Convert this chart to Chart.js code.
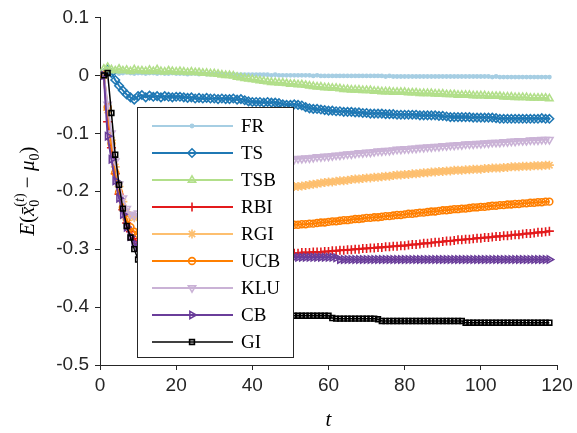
<!DOCTYPE html>
<html>
<head>
<meta charset="utf-8">
<script src="https://cdn.jsdelivr.net/npm/chart.js@4/dist/chart.umd.min.js"></script>
<style>
  html, body { margin: 0; padding: 0; background: #ffffff; }
  #wrap { position: relative; width: 577px; height: 433px; }
</style>
</head>
<body>
<div id="wrap"><canvas id="c" width="577" height="433"></canvas></div>
<script>
// ---------------- DATA ----------------
const seriesNames = ["FR", "TS", "TSB", "RBI", "RGI", "UCB", "KLU", "CB", "GI"];
const tValues = Array.from({ length: 118 }, (_, i) => i + 1);
const xTickLabels = ["0", "20", "40", "60", "80", "100", "120"];
const yTickLabels = ["-0.5", "-0.4", "-0.3", "-0.2", "-0.1", "0", "0.1"];
const xTitle = "t";
// y title pieces: [text, kind]  kind: i = italic, r = roman, sub = subscript, sup = superscript
const yTitleParts = [["E", "i"], ["(", "r"], ["x\u0304", "i"], ["0", "sub"], ["(t)", "sup"], [" \u2212 ", "r"], ["\u03BC", "i"], ["0", "sub"], [")", "r"]];

const FR = [
  0.000, 0.006, 0.004, 0.005, 0.003, 0.004, 0.005, 0.004, 0.003, 0.004,
  0.004, 0.003, 0.004, 0.004, 0.003, 0.004, 0.003, 0.003, 0.004, 0.003,
  0.003, 0.003, 0.002, 0.003, 0.003, 0.002, 0.003, 0.002, 0.002, 0.002,
  0.002, 0.002, 0.002, 0.001, 0.002, 0.001, 0.001, 0.001, 0.001, 0.001,
  0.001, 0.001, 0.001, 0.001, 0.000, 0.001, 0.000, 0.000, 0.000, 0.000,
  0.000, 0.000, 0.000, 0.000, 0.000, -0.001, 0.000, -0.001, -0.001, -0.001,
  -0.001, -0.001, -0.001, -0.001, -0.001, -0.001, -0.001, -0.001, -0.001, -0.001,
  -0.001, -0.001, -0.001, -0.001, -0.002, -0.001, -0.002, -0.002, -0.002, -0.002,
  -0.002, -0.002, -0.002, -0.002, -0.002, -0.002, -0.002, -0.002, -0.002, -0.002,
  -0.002, -0.002, -0.002, -0.002, -0.002, -0.002, -0.002, -0.002, -0.002, -0.002,
  -0.002, -0.002, -0.003, -0.002, -0.003, -0.003, -0.003, -0.003, -0.003, -0.003,
  -0.003, -0.003, -0.003, -0.003, -0.003, -0.003, -0.003, -0.003
];
const TS = [
  0.000, 0.010, 0.004, -0.008, -0.018, -0.026, -0.033, -0.038, -0.042, -0.036,
  -0.034, -0.038, -0.035, -0.037, -0.036, -0.038, -0.036, -0.037, -0.038, -0.037,
  -0.037, -0.038, -0.039, -0.038, -0.040, -0.039, -0.040, -0.039, -0.040, -0.040,
  -0.041, -0.040, -0.041, -0.041, -0.040, -0.042, -0.041, -0.043, -0.045, -0.046,
  -0.046, -0.046, -0.047, -0.046, -0.047, -0.047, -0.048, -0.050, -0.051, -0.051,
  -0.050, -0.051, -0.052, -0.055, -0.057, -0.058, -0.058, -0.059, -0.060, -0.061,
  -0.061, -0.062, -0.062, -0.063, -0.063, -0.063, -0.064, -0.064, -0.065, -0.065,
  -0.066, -0.066, -0.066, -0.066, -0.067, -0.067, -0.067, -0.068, -0.068, -0.068,
  -0.068, -0.068, -0.068, -0.069, -0.069, -0.069, -0.069, -0.069, -0.070, -0.070,
  -0.071, -0.072, -0.072, -0.072, -0.072, -0.072, -0.072, -0.073, -0.073, -0.073,
  -0.073, -0.073, -0.073, -0.074, -0.075, -0.075, -0.075, -0.075, -0.075, -0.075,
  -0.075, -0.075, -0.075, -0.075, -0.075, -0.074, -0.075, -0.075
];
const TSB = [
  0.011, 0.014, 0.010, 0.008, 0.011, 0.008, 0.009, 0.007, 0.010, 0.008,
  0.008, 0.007, 0.009, 0.007, 0.010, 0.007, 0.006, 0.008, 0.007, 0.006,
  0.007, 0.006, 0.005, 0.006, 0.005, 0.005, 0.004, 0.004, 0.003, 0.003,
  0.002, 0.001, 0.000, 0.000, -0.001, -0.003, -0.004, -0.005, -0.006, -0.007,
  -0.008, -0.009, -0.010, -0.011, -0.012, -0.012, -0.013, -0.013, -0.014, -0.015,
  -0.015, -0.016, -0.016, -0.017, -0.018, -0.019, -0.020, -0.020, -0.021, -0.021,
  -0.022, -0.022, -0.023, -0.024, -0.024, -0.025, -0.025, -0.025, -0.026, -0.026,
  -0.026, -0.027, -0.027, -0.028, -0.028, -0.028, -0.029, -0.029, -0.029, -0.029,
  -0.030, -0.030, -0.030, -0.031, -0.031, -0.031, -0.031, -0.032, -0.032, -0.032,
  -0.033, -0.033, -0.033, -0.034, -0.034, -0.034, -0.034, -0.035, -0.035, -0.035,
  -0.035, -0.036, -0.036, -0.036, -0.036, -0.037, -0.037, -0.037, -0.038, -0.038,
  -0.038, -0.038, -0.039, -0.039, -0.039, -0.039, -0.039, -0.040
];
const RBI = [
  0.000, -0.080, -0.125, -0.170, -0.205, -0.232, -0.255, -0.270, -0.282, -0.290,
  -0.294, -0.297, -0.299, -0.301, -0.302, -0.303, -0.304, -0.305, -0.306, -0.306,
  -0.307, -0.307, -0.308, -0.308, -0.309, -0.309, -0.309, -0.310, -0.310, -0.310,
  -0.310, -0.310, -0.310, -0.310, -0.310, -0.310, -0.309, -0.309, -0.309, -0.309,
  -0.309, -0.309, -0.308, -0.308, -0.308, -0.308, -0.308, -0.307, -0.307, -0.307,
  -0.307, -0.307, -0.306, -0.306, -0.306, -0.305, -0.305, -0.305, -0.304, -0.304,
  -0.303, -0.303, -0.302, -0.302, -0.301, -0.301, -0.300, -0.300, -0.299, -0.299,
  -0.298, -0.298, -0.297, -0.297, -0.296, -0.296, -0.295, -0.295, -0.294, -0.294,
  -0.293, -0.292, -0.292, -0.291, -0.290, -0.290, -0.289, -0.288, -0.288, -0.287,
  -0.286, -0.286, -0.285, -0.284, -0.284, -0.283, -0.283, -0.282, -0.281, -0.281,
  -0.280, -0.280, -0.279, -0.278, -0.278, -0.277, -0.277, -0.276, -0.275, -0.275,
  -0.274, -0.273, -0.273, -0.272, -0.271, -0.271, -0.270, -0.269
];
const RGI = [
  0.000, -0.060, -0.112, -0.158, -0.192, -0.218, -0.236, -0.244, -0.246, -0.244,
  -0.241, -0.238, -0.236, -0.234, -0.232, -0.230, -0.229, -0.227, -0.226, -0.225,
  -0.223, -0.222, -0.221, -0.220, -0.218, -0.217, -0.216, -0.215, -0.214, -0.213,
  -0.212, -0.211, -0.210, -0.209, -0.208, -0.207, -0.206, -0.205, -0.204, -0.203,
  -0.202, -0.201, -0.200, -0.199, -0.198, -0.197, -0.196, -0.195, -0.194, -0.193,
  -0.192, -0.192, -0.191, -0.190, -0.189, -0.188, -0.187, -0.186, -0.185, -0.184,
  -0.184, -0.183, -0.182, -0.182, -0.181, -0.180, -0.179, -0.179, -0.178, -0.177,
  -0.177, -0.176, -0.176, -0.175, -0.174, -0.174, -0.173, -0.172, -0.172, -0.171,
  -0.171, -0.170, -0.170, -0.169, -0.168, -0.168, -0.167, -0.167, -0.166, -0.166,
  -0.165, -0.165, -0.164, -0.164, -0.164, -0.163, -0.163, -0.162, -0.162, -0.162,
  -0.161, -0.161, -0.160, -0.160, -0.160, -0.159, -0.159, -0.158, -0.158, -0.158,
  -0.157, -0.157, -0.157, -0.156, -0.156, -0.156, -0.155, -0.155
];
const UCB = [
  0.000, -0.055, -0.118, -0.168, -0.202, -0.228, -0.248, -0.262, -0.270, -0.274,
  -0.276, -0.277, -0.277, -0.277, -0.277, -0.276, -0.276, -0.275, -0.275, -0.274,
  -0.274, -0.273, -0.273, -0.272, -0.272, -0.271, -0.271, -0.270, -0.270, -0.269,
  -0.269, -0.268, -0.268, -0.267, -0.267, -0.266, -0.266, -0.265, -0.265, -0.264,
  -0.264, -0.263, -0.263, -0.262, -0.262, -0.261, -0.261, -0.260, -0.260, -0.259,
  -0.258, -0.258, -0.257, -0.257, -0.256, -0.256, -0.255, -0.254, -0.254, -0.253,
  -0.252, -0.252, -0.251, -0.250, -0.250, -0.249, -0.248, -0.248, -0.247, -0.246,
  -0.246, -0.245, -0.245, -0.244, -0.243, -0.243, -0.242, -0.241, -0.241, -0.240,
  -0.239, -0.239, -0.238, -0.237, -0.237, -0.236, -0.235, -0.235, -0.234, -0.233,
  -0.233, -0.232, -0.231, -0.231, -0.230, -0.230, -0.229, -0.228, -0.228, -0.227,
  -0.227, -0.226, -0.225, -0.225, -0.224, -0.224, -0.223, -0.223, -0.222, -0.222,
  -0.221, -0.221, -0.220, -0.220, -0.219, -0.219, -0.218, -0.218
];
const KLU = [
  0.000, -0.050, -0.100, -0.148, -0.188, -0.212, -0.230, -0.240, -0.242, -0.238,
  -0.233, -0.228, -0.224, -0.220, -0.216, -0.212, -0.208, -0.205, -0.202, -0.199,
  -0.196, -0.193, -0.190, -0.188, -0.185, -0.183, -0.181, -0.179, -0.177, -0.175,
  -0.173, -0.171, -0.169, -0.167, -0.165, -0.163, -0.161, -0.159, -0.157, -0.156,
  -0.155, -0.154, -0.153, -0.152, -0.151, -0.150, -0.149, -0.148, -0.147, -0.146,
  -0.145, -0.144, -0.144, -0.143, -0.143, -0.142, -0.141, -0.141, -0.140, -0.140,
  -0.139, -0.138, -0.138, -0.137, -0.136, -0.136, -0.135, -0.134, -0.134, -0.133,
  -0.133, -0.132, -0.131, -0.131, -0.130, -0.130, -0.129, -0.128, -0.128, -0.127,
  -0.127, -0.126, -0.126, -0.125, -0.125, -0.124, -0.124, -0.123, -0.123, -0.122,
  -0.122, -0.121, -0.121, -0.120, -0.120, -0.119, -0.119, -0.119, -0.118, -0.118,
  -0.117, -0.117, -0.116, -0.116, -0.116, -0.115, -0.115, -0.114, -0.114, -0.113,
  -0.113, -0.113, -0.112, -0.112, -0.112, -0.111, -0.111, -0.111
];
const CB = [
  0.000, -0.105, -0.145, -0.182, -0.212, -0.240, -0.262, -0.278, -0.290, -0.298,
  -0.303, -0.306, -0.308, -0.310, -0.311, -0.312, -0.312, -0.313, -0.313, -0.313,
  -0.314, -0.314, -0.314, -0.314, -0.314, -0.314, -0.314, -0.314, -0.314, -0.314,
  -0.314, -0.314, -0.314, -0.314, -0.314, -0.314, -0.314, -0.314, -0.314, -0.314,
  -0.314, -0.314, -0.314, -0.314, -0.314, -0.314, -0.314, -0.314, -0.314, -0.314,
  -0.314, -0.314, -0.314, -0.314, -0.314, -0.314, -0.314, -0.314, -0.314, -0.314,
  -0.314, -0.315, -0.318, -0.318, -0.318, -0.318, -0.318, -0.318, -0.318, -0.318,
  -0.318, -0.318, -0.318, -0.318, -0.318, -0.318, -0.318, -0.318, -0.318, -0.318,
  -0.318, -0.318, -0.318, -0.318, -0.318, -0.318, -0.318, -0.318, -0.318, -0.318,
  -0.318, -0.318, -0.318, -0.318, -0.318, -0.318, -0.318, -0.318, -0.318, -0.318,
  -0.318, -0.318, -0.318, -0.318, -0.318, -0.318, -0.318, -0.318, -0.318, -0.318,
  -0.318, -0.318, -0.318, -0.318, -0.318, -0.318, -0.318, -0.318
];
const GI = [
  0.000, 0.004, -0.065, -0.137, -0.189, -0.230, -0.260, -0.280, -0.300, -0.318,
  -0.333, -0.345, -0.356, -0.365, -0.372, -0.378, -0.383, -0.387, -0.390, -0.393,
  -0.395, -0.397, -0.399, -0.400, -0.401, -0.402, -0.403, -0.404, -0.405, -0.406,
  -0.407, -0.407, -0.408, -0.408, -0.409, -0.409, -0.410, -0.410, -0.411, -0.411,
  -0.411, -0.412, -0.412, -0.412, -0.413, -0.413, -0.413, -0.414, -0.414, -0.414,
  -0.415, -0.415, -0.415, -0.415, -0.415, -0.415, -0.415, -0.415, -0.415, -0.415,
  -0.419, -0.420, -0.420, -0.420, -0.420, -0.420, -0.420, -0.420, -0.420, -0.420,
  -0.420, -0.420, -0.421, -0.424, -0.424, -0.424, -0.424, -0.424, -0.424, -0.424,
  -0.424, -0.424, -0.424, -0.424, -0.424, -0.424, -0.424, -0.424, -0.424, -0.424,
  -0.424, -0.424, -0.424, -0.424, -0.424, -0.427, -0.427, -0.427, -0.427, -0.427,
  -0.427, -0.427, -0.427, -0.427, -0.427, -0.427, -0.427, -0.427, -0.427, -0.427,
  -0.427, -0.427, -0.427, -0.427, -0.427, -0.427, -0.427, -0.427
];

// ---------------- STYLE ----------------
const seriesValues = [FR, TS, TSB, RBI, RGI, UCB, KLU, CB, GI];
const seriesColors = ["#a6cee3", "#1f78b4", "#b2df8a", "#e31a1c", "#fdbf6f", "#ff7f00", "#cab2d6", "#6a3d9a", "#000000"];
const markerStyles = [
  { style: "circle", radius: 1.6, rotation: 0, fill: true },
  { style: "rectRot", radius: 4.2, rotation: 0, fill: false },
  { style: "triangle", radius: 4.2, rotation: 0, fill: false },
  { style: "cross", radius: 4.5, rotation: 0, fill: false },
  { style: "star", radius: 4.5, rotation: 0, fill: false },
  { style: "circle", radius: 3.4, rotation: 0, fill: false },
  { style: "triangle", radius: 4.2, rotation: 180, fill: false },
  { style: "triangle", radius: 4.2, rotation: 90, fill: false },
  { style: "rect", radius: 3.4, rotation: 0, fill: false }
];
const lineWidths = [2, 2, 2, 2, 2, 2, 2, 2, 1.5];
const AXIS_COLOR = "#262626";
const TICK_FONT = "'Liberation Sans', Arial, Helvetica, sans-serif";
const SERIF_FONT = "'Liberation Serif', 'DejaVu Serif', 'Times New Roman', serif";

const datasets = seriesNames.map((name, i) => ({
  label: name,
  data: tValues.map((t, k) => ({ x: t, y: seriesValues[i][k] })),
  borderColor: seriesColors[i],
  backgroundColor: seriesColors[i],
  borderWidth: lineWidths[i],
  pointStyle: markerStyles[i].style,
  pointRadius: markerStyles[i].radius,
  pointRotation: markerStyles[i].rotation,
  pointBorderColor: seriesColors[i],
  pointBackgroundColor: markerStyles[i].fill ? seriesColors[i] : "rgba(0,0,0,0)",
  pointBorderWidth: 1.6,
  pointHoverRadius: markerStyles[i].radius,
  tension: 0,
  fill: false,
  order: seriesNames.length - i
}));

// Legend drawn inside the axes (MATLAB style)
const insideLegend = {
  id: "insideLegend",
  afterDatasetsDraw(chart) {
    const ctx = chart.ctx;
    const bx = 137, by = 107, bw = 157, bh = 251;
    ctx.save();
    ctx.fillStyle = "#ffffff";
    ctx.fillRect(bx, by, bw, bh);
    ctx.strokeStyle = AXIS_COLOR;
    ctx.lineWidth = 1;
    ctx.strokeRect(bx + 0.5, by + 0.5, bw - 1, bh - 1);
    chart.data.datasets.forEach((ds, i) => {
      const y = by + 19 + i * 27.0;
      ctx.beginPath();
      ctx.strokeStyle = ds.borderColor;
      ctx.lineWidth = ds.borderWidth;
      ctx.moveTo(bx + 15, y);
      ctx.lineTo(bx + 96, y);
      ctx.stroke();
      const m = markerStyles[i];
      ctx.strokeStyle = ds.borderColor;
      ctx.fillStyle = m.fill ? ds.borderColor : "rgba(0,0,0,0)";
      ctx.lineWidth = 1.6;
      const opts = { pointStyle: m.style, radius: m.radius, rotation: m.rotation, borderWidth: 1.6 };
      if (Chart.helpers && Chart.helpers.drawPoint) {
        Chart.helpers.drawPoint(ctx, opts, bx + 55, y);
      }
      ctx.fillStyle = "#000000";
      ctx.font = "19px " + SERIF_FONT;
      ctx.textBaseline = "middle";
      ctx.textAlign = "left";
      ctx.fillText(ds.label, bx + 104, y + 1);
    });
    ctx.restore();
  }
};

// Rotated y-axis title with sub/superscripts
const yTitlePlugin = {
  id: "yTitlePlugin",
  afterDraw(chart) {
    const ctx = chart.ctx;
    const area = chart.chartArea;
    const cy = (area.top + area.bottom) / 2;
    const size = 21, small = 14;
    const fontFor = (kind) => {
      if (kind === "i") return "italic " + size + "px " + SERIF_FONT;
      if (kind === "r") return size + "px " + SERIF_FONT;
      return small + "px " + SERIF_FONT;
    };
    ctx.save();
    let total = 0;
    const widths = [];
    for (let k = 0; k < yTitleParts.length; k++) {
      const [txt, kind] = yTitleParts[k];
      ctx.font = fontFor(kind);
      let w = ctx.measureText(txt).width;
      if (kind === "sup" && k > 0 && yTitleParts[k - 1][1] === "sub") {
        const wPrev = widths[k - 1];
        widths.push(Math.max(0, w - wPrev));
        total += Math.max(0, w - wPrev);
        continue;
      }
      widths.push(w);
      total += w;
    }
    ctx.translate(34, cy);
    ctx.rotate(-Math.PI / 2);
    ctx.fillStyle = "#000000";
    ctx.textBaseline = "alphabetic";
    ctx.textAlign = "left";
    let x = -total / 2;
    let subStart = x;
    for (let k = 0; k < yTitleParts.length; k++) {
      const [txt, kind] = yTitleParts[k];
      ctx.font = fontFor(kind);
      if (kind === "sub") {
        subStart = x;
        ctx.fillText(txt, x, 5);
      } else if (kind === "sup") {
        const prevSub = k > 0 && yTitleParts[k - 1][1] === "sub";
        const sx = prevSub ? subStart : x;
        ctx.font = small + "px " + SERIF_FONT;
        ctx.fillText("(", sx, -10);
        let w1 = ctx.measureText("(").width;
        ctx.font = "italic " + small + "px " + SERIF_FONT;
        ctx.fillText("t", sx + w1, -10);
        let w2 = ctx.measureText("t").width;
        ctx.font = small + "px " + SERIF_FONT;
        ctx.fillText(")", sx + w1 + w2, -10);
      } else {
        ctx.fillText(txt, x, 0);
      }
      x += widths[k];
    }
    ctx.restore();
  }
};

new Chart(document.getElementById("c"), {
  type: "line",
  data: { datasets },
  plugins: [insideLegend, yTitlePlugin],
  options: {
    responsive: false,
    animation: false,
    devicePixelRatio: 1,
    layout: { padding: { left: 0, right: 20, top: 15, bottom: 0 } },
    plugins: { legend: { display: false }, tooltip: { enabled: false } },
    scales: {
      x: {
        type: "linear",
        min: 0, max: 120,
        afterFit(s) { s.height = 68; },
        afterBuildTicks(s) { s.ticks = xTickLabels.map(v => ({ value: Number(v) })); },
        ticks: {
          callback: (v) => xTickLabels[xTickLabels.indexOf(String(v))] ?? "",
          color: AXIS_COLOR,
          font: { family: TICK_FONT, size: 19 },
          padding: 4,
          maxRotation: 0,
          autoSkip: false
        },
        grid: { display: true, drawOnChartArea: false, drawTicks: true, tickLength: 5, color: AXIS_COLOR, lineWidth: 1 },
        border: { display: true, color: AXIS_COLOR, width: 1 },
        title: {
          display: true,
          text: xTitle,
          color: "#000000",
          font: { family: SERIF_FONT, size: 21, style: "italic" },
          padding: { top: -10, bottom: 0 }
        }
      },
      y: {
        type: "linear",
        min: -0.5, max: 0.1,
        afterFit(s) { s.width = 100; },
        afterBuildTicks(s) { s.ticks = yTickLabels.map(v => ({ value: Number(v) })); },
        ticks: {
          callback: (v) => {
            const idx = yTickLabels.findIndex(l => Math.abs(Number(l) - v) < 1e-9);
            return idx >= 0 ? yTickLabels[idx] : "";
          },
          color: AXIS_COLOR,
          font: { family: TICK_FONT, size: 19 },
          padding: 6,
          autoSkip: false
        },
        grid: { display: true, drawOnChartArea: false, drawTicks: true, tickLength: 5, color: AXIS_COLOR, lineWidth: 1 },
        border: { display: true, color: AXIS_COLOR, width: 1 },
        title: { display: false }
      }
    }
  }
});
</script>
</body>
</html>
